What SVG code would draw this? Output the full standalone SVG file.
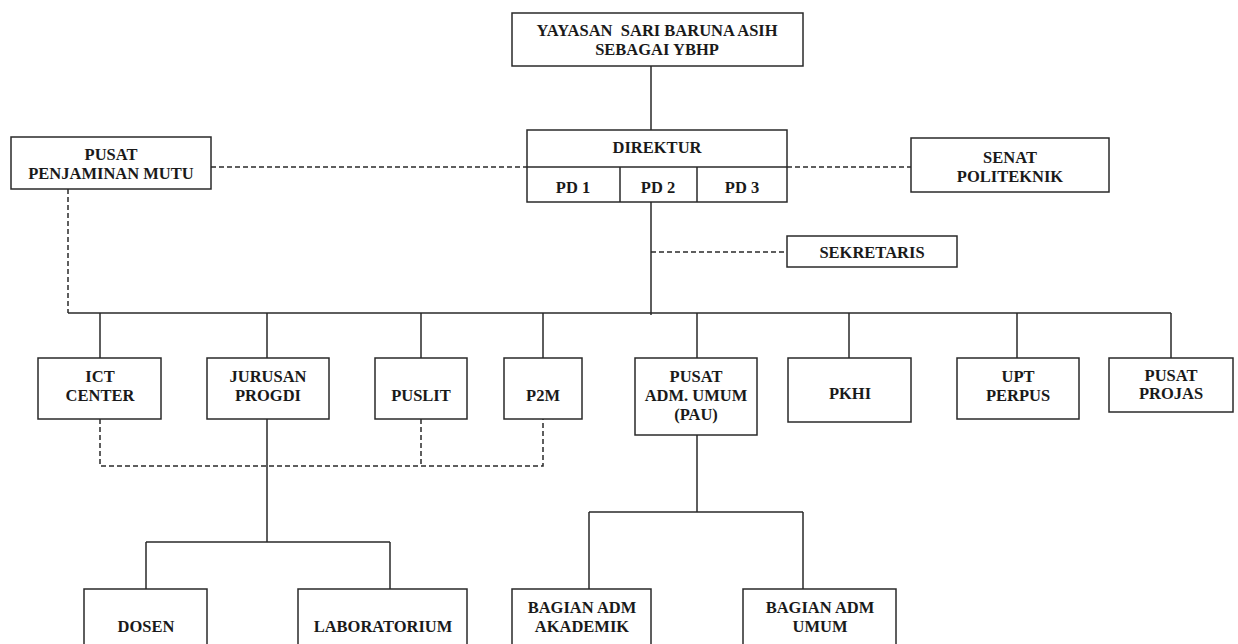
<svg xmlns="http://www.w3.org/2000/svg" width="1238" height="644" viewBox="0 0 1238 644">
<style>
.b{fill:#fff;stroke:#2a2a2a;stroke-width:1.5}
.t{font-family:"Liberation Serif","Times New Roman",serif;font-weight:bold;font-size:16.5px;fill:#1a1a1a;text-anchor:middle}
.s{fill:none;stroke:#2a2a2a;stroke-width:1.5}
.d{fill:none;stroke:#2a2a2a;stroke-width:1.5;stroke-dasharray:5 3}
</style>
<rect width="1238" height="644" fill="#fff"/>
<g id="connectors">
<path class="s" d="M651 66V130M651 202V315M68 313H1171M100 313V358M267 313V358M421 313V358M543 313V358M697 313V358M849 313V358M1017 313V358M1171 313V358"/>
<path class="s" d="M267 419V542M146 542H390M146 542V589M390 542V589"/>
<path class="s" d="M697 435V512M589 512H803M589 512V589M803 512V589"/>
<path class="d" d="M211 167H527M787 167H911M651 252H787M68 189V313"/>
<path class="d" d="M100 419V466H543V419M421 419V466"/>
</g>
<g id="yayasan"><rect class="b" x="512" y="13" width="291" height="53"/>
<text class="t" x="657" y="36" xml:space="preserve">YAYASAN  SARI BARUNA ASIH</text><text class="t" x="657" y="55">SEBAGAI YBHP</text></g>
<g id="direktur"><rect class="b" x="527" y="130" width="260" height="72"/>
<path class="s" d="M527 167H787M620 167V202M697 167V202"/>
<text class="t" x="657" y="153">DIREKTUR</text>
<text class="t" x="573" y="193">PD 1</text><text class="t" x="658" y="193">PD 2</text><text class="t" x="742" y="193">PD 3</text></g>
<g id="ppm"><rect class="b" x="11" y="137" width="200" height="52"/>
<text class="t" x="111" y="160">PUSAT</text><text class="t" x="111" y="179">PENJAMINAN MUTU</text></g>
<g id="senat"><rect class="b" x="911" y="138" width="198" height="54"/>
<text class="t" x="1010" y="163">SENAT</text><text class="t" x="1010" y="182">POLITEKNIK</text></g>
<g id="sekretaris"><rect class="b" x="787" y="236" width="170" height="31"/>
<text class="t" x="872" y="258">SEKRETARIS</text></g>
<g id="ict"><rect class="b" x="38" y="358" width="123" height="61"/>
<text class="t" x="100" y="382">ICT</text><text class="t" x="100" y="401">CENTER</text></g>
<g id="jurusan"><rect class="b" x="207" y="358" width="122" height="61"/>
<text class="t" x="268" y="382">JURUSAN</text><text class="t" x="268" y="401">PROGDI</text></g>
<g id="puslit"><rect class="b" x="375" y="358" width="92" height="61"/>
<text class="t" x="421" y="401">PUSLIT</text></g>
<g id="p2m"><rect class="b" x="504" y="358" width="78" height="61"/>
<text class="t" x="543" y="401">P2M</text></g>
<g id="pau"><rect class="b" x="635" y="358" width="122" height="77"/>
<text class="t" x="696" y="382">PUSAT</text><text class="t" x="696" y="401">ADM. UMUM</text><text class="t" x="696" y="420">(PAU)</text></g>
<g id="pkhi"><rect class="b" x="788" y="358" width="123" height="64"/>
<text class="t" x="850" y="399">PKHI</text></g>
<g id="upt"><rect class="b" x="957" y="358" width="122" height="61"/>
<text class="t" x="1018" y="382">UPT</text><text class="t" x="1018" y="401">PERPUS</text></g>
<g id="projas"><rect class="b" x="1109" y="358" width="124" height="54"/>
<text class="t" x="1171" y="381">PUSAT</text><text class="t" x="1171" y="399">PROJAS</text></g>
<g id="dosen"><rect class="b" x="84" y="589" width="123" height="70"/>
<text class="t" x="146" y="632">DOSEN</text></g>
<g id="lab"><rect class="b" x="298" y="589" width="169" height="70"/>
<text class="t" x="383" y="632">LABORATORIUM</text></g>
<g id="akademik"><rect class="b" x="512" y="589" width="139" height="70"/>
<text class="t" x="582" y="613">BAGIAN ADM</text><text class="t" x="582" y="632">AKADEMIK</text></g>
<g id="umum"><rect class="b" x="743" y="589" width="153" height="70"/>
<text class="t" x="820" y="613">BAGIAN ADM</text><text class="t" x="820" y="632">UMUM</text></g>
</svg>
